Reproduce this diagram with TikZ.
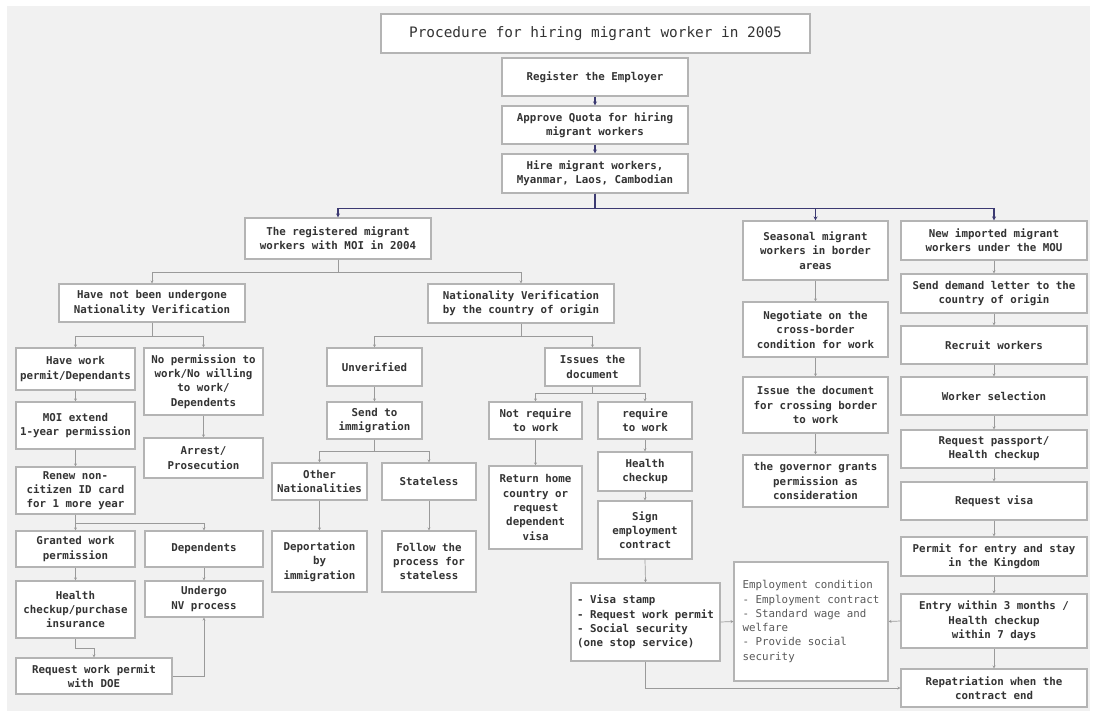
\documentclass[tikz,border=0pt]{standalone}
\usepackage{fontspec}
\newfontfamily\boxfont{DejaVu Sans Mono}
\usetikzlibrary{arrows.meta}
\definecolor{bg}{HTML}{F1F1F1}
\definecolor{navy}{HTML}{3C3A72}
\definecolor{edge}{HTML}{B4B4B4}
\definecolor{wire}{HTML}{9A9A9A}
\definecolor{ink}{HTML}{333333}
\tikzset{
  box/.style={draw=edge, line width=1.1pt, fill=white, inner sep=0pt, align=center,
    font=\boxfont\bfseries\fontsize{10.8}{14.3}\selectfont, text=ink},
  plainbox/.style={font=\boxfont\fontsize{10.8}{14.3}\selectfont, text=black!65},
  titlebox/.style={font=\boxfont\fontsize{14.4}{17}\selectfont, text=ink},
  wire/.style={draw=wire, line width=0.7pt, -{Stealth[length=3pt,width=3pt]}},
  bus/.style={draw=navy, line width=1.2pt, -{Stealth[length=4pt,width=4pt]}},
}
% box from corner (x1,y1) to (x2,y2): [options]{x1}{y1}{x2}{y2}{name}{text}
\newcommand\bx[7][]{\node[box,#1,minimum width={(#4-#2)*1pt},minimum height={(#5-#3)*1pt}]
  (#6) at ({(#2+#4)/2},{(#3+#5)/2}) {#7};}
\begin{document}
\begin{tikzpicture}[x=1pt,y=-1pt]
\useasboundingbox (0,0) rectangle (1094,711);
\fill[white] (0,0) rectangle (1094,711);
\fill[bg] (7,6) rectangle (1090,711);

% heading and common trunk
\bx[titlebox]{381}{14}{810}{53}{title}{Procedure for hiring migrant worker in 2005}
\bx{502}{58}{688}{96}{reg}{Register the Employer}
\bx{502}{106}{688}{144}{quota}{Approve Quota for hiring\\migrant workers}
\bx{502}{154}{688}{193}{hire}{Hire migrant workers,\\Myanmar, Laos, Cambodian}

% three groups of workers
\bx{245}{218}{431}{259}{regd}{The registered migrant\\workers with MOI in 2004}
\bx{743}{221}{888}{280}{season}{Seasonal migrant\\workers in border\\areas}
\bx{901}{221}{1087}{260}{mou}{New imported migrant\\workers under the MOU}

% registered workers, no nationality verification
\bx{59}{284}{245}{322}{notnv}{Have not been undergone\\Nationality Verification}
\bx{16}{348}{135}{390}{haveperm}{Have work\\permit/Dependants}
\bx{144}{348}{263}{415}{noperm}{No permission to\\work/No willing\\to work/\\Dependents}
\bx{16}{402}{135}{449}{moi}{MOI extend\\1-year permission}
\bx{144}{438}{263}{478}{arrest}{Arrest/\\Prosecution}
\bx{16}{467}{135}{514}{renew}{Renew non-\\citizen ID card\\for 1 more year}
\bx{16}{531}{135}{567}{granted}{Granted work\\permission}
\bx{145}{531}{263}{567}{dep}{Dependents}
\bx{16}{581}{135}{638}{healthA}{Health\\checkup/purchase\\insurance}
\bx{145}{581}{263}{617}{undergo}{Undergo\\NV process}
\bx{16}{658}{172}{694}{doe}{Request work permit\\with DOE}

% registered workers, nationality verification
\bx{428}{284}{614}{323}{nv}{Nationality Verification\\by the country of origin}
\bx{327}{348}{422}{386}{unver}{Unverified}
\bx{545}{348}{640}{386}{issues}{Issues the\\document}
\bx{327}{402}{422}{439}{sendimm}{Send to\\immigration}
\bx{272}{463}{367}{500}{other}{Other\\Nationalities}
\bx{382}{463}{476}{500}{stateless}{Stateless}
\bx{272}{531}{367}{592}{deport}{Deportation\\by\\immigration}
\bx{382}{531}{476}{592}{follow}{Follow the\\process for\\stateless}
\bx{489}{402}{582}{439}{notreq}{Not require\\to work}
\bx{598}{402}{692}{439}{req}{require\\to work}
\bx{489}{466}{582}{549}{ret}{Return home\\country or\\request\\dependent\\visa}
\bx{598}{452}{692}{491}{healthB}{Health\\checkup}
\bx{598}{501}{692}{559}{sign}{Sign\\employment\\contract}
\bx[align=left]{571}{583}{720}{661}{visa}{- Visa stamp\\- Request work permit\\- Social security\\(one stop service)}
\bx[align=left,plainbox]{734}{562}{888}{681}{emp}{Employment condition\\- Employment contract\\- Standard wage and\\welfare\\- Provide social\\security}

% seasonal workers
\bx{743}{302}{888}{357}{nego}{Negotiate on the\\cross-border\\condition for work}
\bx{743}{377}{888}{433}{issuedoc}{Issue the document\\for crossing border\\to work}
\bx{743}{455}{888}{507}{gov}{the governor grants\\permission as\\consideration}

% MOU workers
\bx{901}{274}{1087}{313}{demand}{Send demand letter to the\\country of origin}
\bx{901}{326}{1087}{364}{recruit}{Recruit workers}
\bx{901}{377}{1087}{415}{select}{Worker selection}
\bx{901}{430}{1087}{468}{pass}{Request passport/\\Health checkup}
\bx{901}{482}{1087}{520}{rvisa}{Request visa}
\bx{901}{537}{1087}{576}{permit}{Permit for entry and stay\\in the Kingdom}
\bx{901}{594}{1087}{648}{entry}{Entry within 3 months /\\Health checkup\\within 7 days}
\bx{901}{669}{1087}{707}{repat}{Repatriation when the\\contract end}

% trunk connectors
\draw[bus] (reg.south) -- (quota.north);
\draw[bus] (quota.south) -- (hire.north);
\draw[bus] (hire.south) -- ++(0,15) -| (regd.north);
\draw[bus] (hire.south) -- ++(0,15) -| (season.north);
\draw[bus] (hire.south) -- ++(0,15) -| (mou.north);

% registered workers
\draw[wire] (regd.south) -- ++(0,13) -| (notnv.north);
\draw[wire] (regd.south) -- ++(0,13) -| (nv.north);
\draw[wire] (notnv.south) -- ++(0,14) -| (haveperm.north);
\draw[wire] (notnv.south) -- ++(0,14) -| (noperm.north);
\draw[wire] (haveperm) -- (moi);
\draw[wire] (noperm) -- (arrest);
\draw[wire] (moi) -- (renew);
\draw[wire] (renew.south) -- ++(0,9) -| (granted.north);
\draw[wire] (renew.south) -- ++(0,9) -| (dep.north);
\draw[wire] (granted) -- (healthA);
\draw[wire] (dep) -- (undergo);
\draw[wire] (healthA.south) -- ++(0,10) -| (doe.north);
\draw[wire] (doe.east) -| (undergo.south);

\draw[wire] (nv.south) -- ++(0,13) -| (unver.north);
\draw[wire] (nv.south) -- ++(0,13) -| (issues.north);
\draw[wire] (unver) -- (sendimm);
\draw[wire] (sendimm.south) -- ++(0,12) -| (other.north);
\draw[wire] (sendimm.south) -- ++(0,12) -| (stateless.north);
\draw[wire] (other) -- (deport);
\draw[wire] (stateless) -- (follow);
\draw[wire] (issues.south) -- ++(0,7) -| (notreq.north);
\draw[wire] (issues.south) -- ++(0,7) -| (req.north);
\draw[wire] (notreq) -- (ret);
\draw[wire] (req) -- (healthB);
\draw[wire] (healthB) -- (sign);
\draw[wire] (sign.south) -- (visa.north);
\draw[wire] (visa.east) -- (emp.west);
\draw[wire] (visa.south) |- (repat.west);
\draw[wire] (entry.west) -- (emp.east);

% seasonal workers
\draw[wire] (season) -- (nego);
\draw[wire] (nego) -- (issuedoc);
\draw[wire] (issuedoc) -- (gov);

% MOU workers
\draw[wire] (mou) -- (demand);
\draw[wire] (demand) -- (recruit);
\draw[wire] (recruit) -- (select);
\draw[wire] (select) -- (pass);
\draw[wire] (pass) -- (rvisa);
\draw[wire] (rvisa) -- (permit);
\draw[wire] (permit) -- (entry);
\draw[wire] (entry) -- (repat);
\end{tikzpicture}
\end{document}
